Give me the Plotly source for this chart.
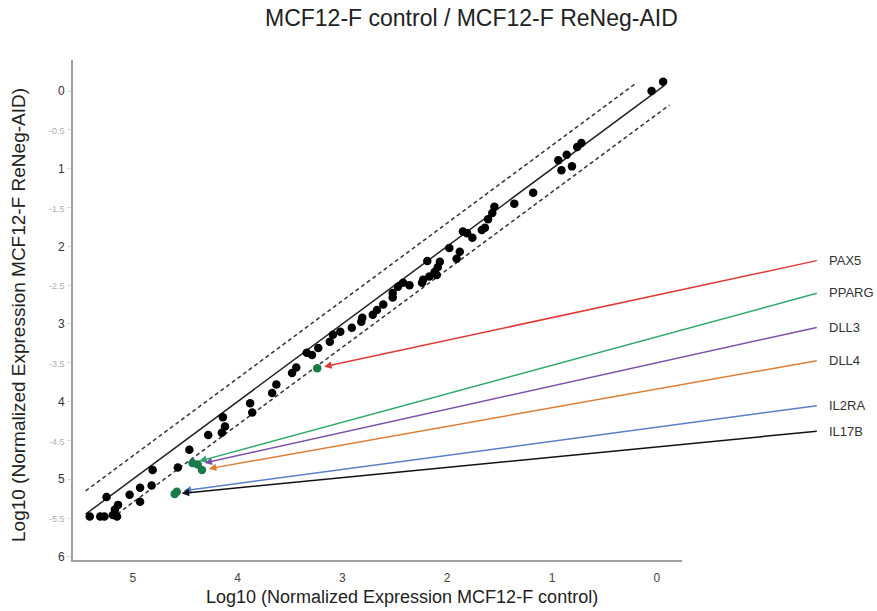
import plotly.graph_objects as go

# ---- data ----
ctrl = [-0.06, 0.05, 0.72, 0.76, 0.86, 0.94, 0.91, 0.81, 1.18, 1.36, 1.55, 1.57, 1.61, 1.64, 1.67,
        1.81, 1.76, 1.85, 1.98, 1.88, 1.91, 2.19, 2.07, 2.09, 2.12, 2.10, 2.17, 2.24, 2.23, 2.36,
        2.42, 2.47, 2.52, 2.52, 2.61, 2.67, 2.71, 2.81, 2.82, 2.91, 3.02, 3.09, 3.12, 3.23, 3.29,
        3.34, 3.44, 3.48, 3.63, 3.67, 3.88, 3.86, 4.14, 4.12, 4.15, 4.28, 4.46, 4.57, 4.81, 4.82,
        4.93, 5.03, 5.25, 4.93, 5.14, 5.17, 5.19, 5.27, 5.31, 5.41, 5.15]
reneg = [-0.12, 0.00, 0.67, 0.72, 0.82, 0.89, 1.02, 0.97, 1.31, 1.45, 1.49, 1.57, 1.65, 1.76, 1.79,
         1.83, 1.89, 1.81, 2.02, 2.07, 2.16, 2.19, 2.20, 2.27, 2.33, 2.37, 2.39, 2.47, 2.43, 2.50,
         2.47, 2.52, 2.60, 2.66, 2.75, 2.82, 2.88, 2.92, 2.97, 3.05, 3.10, 3.14, 3.23, 3.31, 3.40,
         3.37, 3.56, 3.63, 3.78, 3.89, 4.02, 4.14, 4.20, 4.32, 4.40, 4.43, 4.62, 4.85, 4.88, 5.08,
         5.11, 5.20, 5.23, 5.29, 5.33, 5.39, 5.46, 5.48, 5.48, 5.48, 5.48]

genes = ["PAX5", "PPARG", "DLL3", "DLL4", "IL2RA", "IL17B"]
gene_ctrl = [3.24, 4.43, 4.38, 4.34, 4.58, 4.60]
gene_reneg = [3.57, 4.79, 4.81, 4.88, 5.16, 5.19]
gene_colors = ["#e03a36", "#2ea86a", "#7b52a8", "#dc7f35", "#5a7fc8", "#111111"]
label_x = -1.54
label_y = [2.18, 2.60, 3.04, 3.47, 4.05, 4.38]

diag_x = [5.45, -0.07]
upper_x = [5.45, 0.20]
lower_x = [5.20, -0.12]
band = 0.3

x_ticks = [5, 4, 3, 2, 1, 0]
y_ticks = [0, 0.5, 1, 1.5, 2, 2.5, 3, 3.5, 4, 4.5, 5, 5.5, 6]
y_ticktext = []
for v in y_ticks:
    if float(v).is_integer():
        y_ticktext.append('<span style="fill:#333333;font-size:12px">%d</span>' % v)
    else:
        y_ticktext.append('<span style="fill:#b0b0b0;font-size:9px">-%g</span>' % v)

X_RANGE = [5.57, -0.24]
Y_RANGE = [6.04, -0.4]
FONT = "Arial, Liberation Sans, sans-serif"


def xfrac(v):
    return (v - X_RANGE[0]) / (X_RANGE[1] - X_RANGE[0])


def yfrac(v):
    return (v - Y_RANGE[0]) / (Y_RANGE[1] - Y_RANGE[0])


fig = go.Figure()
fig.add_trace(go.Scatter(x=upper_x, y=[v - band for v in upper_x], mode="lines",
                         line=dict(color="#333333", width=1.5, dash="4px,3px"), hoverinfo="skip"))
fig.add_trace(go.Scatter(x=lower_x, y=[v + band for v in lower_x], mode="lines",
                         line=dict(color="#333333", width=1.5, dash="4px,3px"), hoverinfo="skip"))
fig.add_trace(go.Scatter(x=diag_x, y=diag_x, mode="lines",
                         line=dict(color="#222222", width=1.5), hoverinfo="skip"))
fig.add_trace(go.Scatter(x=ctrl, y=reneg, mode="markers",
                         marker=dict(color="#000000", size=8.5)))
fig.add_trace(go.Scatter(x=gene_ctrl, y=gene_reneg, mode="markers", text=genes,
                         marker=dict(color="#1a7a4a", size=8.5)))

for g, gx, gy, c, ly in zip(genes, gene_ctrl, gene_reneg, gene_colors, label_y):
    fig.add_annotation(x=gx, y=gy, xref="x", yref="y", ax=label_x, ay=ly, axref="x", ayref="y",
                       text="", showarrow=True, arrowhead=2, arrowsize=1, arrowwidth=1.5,
                       arrowcolor=c, standoff=7)
    fig.add_annotation(x=xfrac(label_x), y=yfrac(ly), xref="paper", yref="paper", text=g,
                       showarrow=False, xanchor="left", yanchor="middle", xshift=9,
                       font=dict(family=FONT, size=13, color="#333333"))

# title and axis titles
fig.add_annotation(x=(471 - 73) / 609, y=1 + (60 - 18) / 500, xref="paper", yref="paper",
                   text="MCF12-F control / MCF12-F ReNeg-AID", showarrow=False,
                   font=dict(family=FONT, size=23, color="#222222"), xanchor="center", yanchor="middle")
fig.add_annotation(x=(402 - 73) / 609, y=-(597 - 560) / 500, xref="paper", yref="paper",
                   text="Log10 (Normalized Expression MCF12-F control)", showarrow=False,
                   font=dict(family=FONT, size=18, color="#222222"), xanchor="center", yanchor="middle")
fig.add_annotation(x=-(73 - 18) / 609, y=1 - (315 - 60) / 500, xref="paper", yref="paper",
                   text="Log10 (Normalized Expression MCF12-F ReNeg-AID)", showarrow=False, textangle=-90,
                   font=dict(family=FONT, size=19, color="#222222"), xanchor="center", yanchor="middle")

fig.update_layout(
    width=877, height=611,
    margin=dict(l=73, r=195, t=60, b=51),
    plot_bgcolor="white", paper_bgcolor="white",
    showlegend=False,
    font=dict(family=FONT),
    xaxis=dict(range=X_RANGE, tickvals=x_ticks, ticktext=[str(v) for v in x_ticks],
               showline=True, linecolor="#a0a0a0", linewidth=2, showgrid=False, zeroline=False,
               ticks="", ticklabelstandoff=6, tickfont=dict(size=12, color="#444444")),
    yaxis=dict(range=Y_RANGE, tickvals=y_ticks, ticktext=y_ticktext,
               showline=True, linecolor="#a0a0a0", linewidth=2, showgrid=False, zeroline=False,
               ticks="outside", ticklen=4, tickcolor="#dddddd", tickfont=dict(size=12, color="#333333")),
)

fig.write_html("out.html")
